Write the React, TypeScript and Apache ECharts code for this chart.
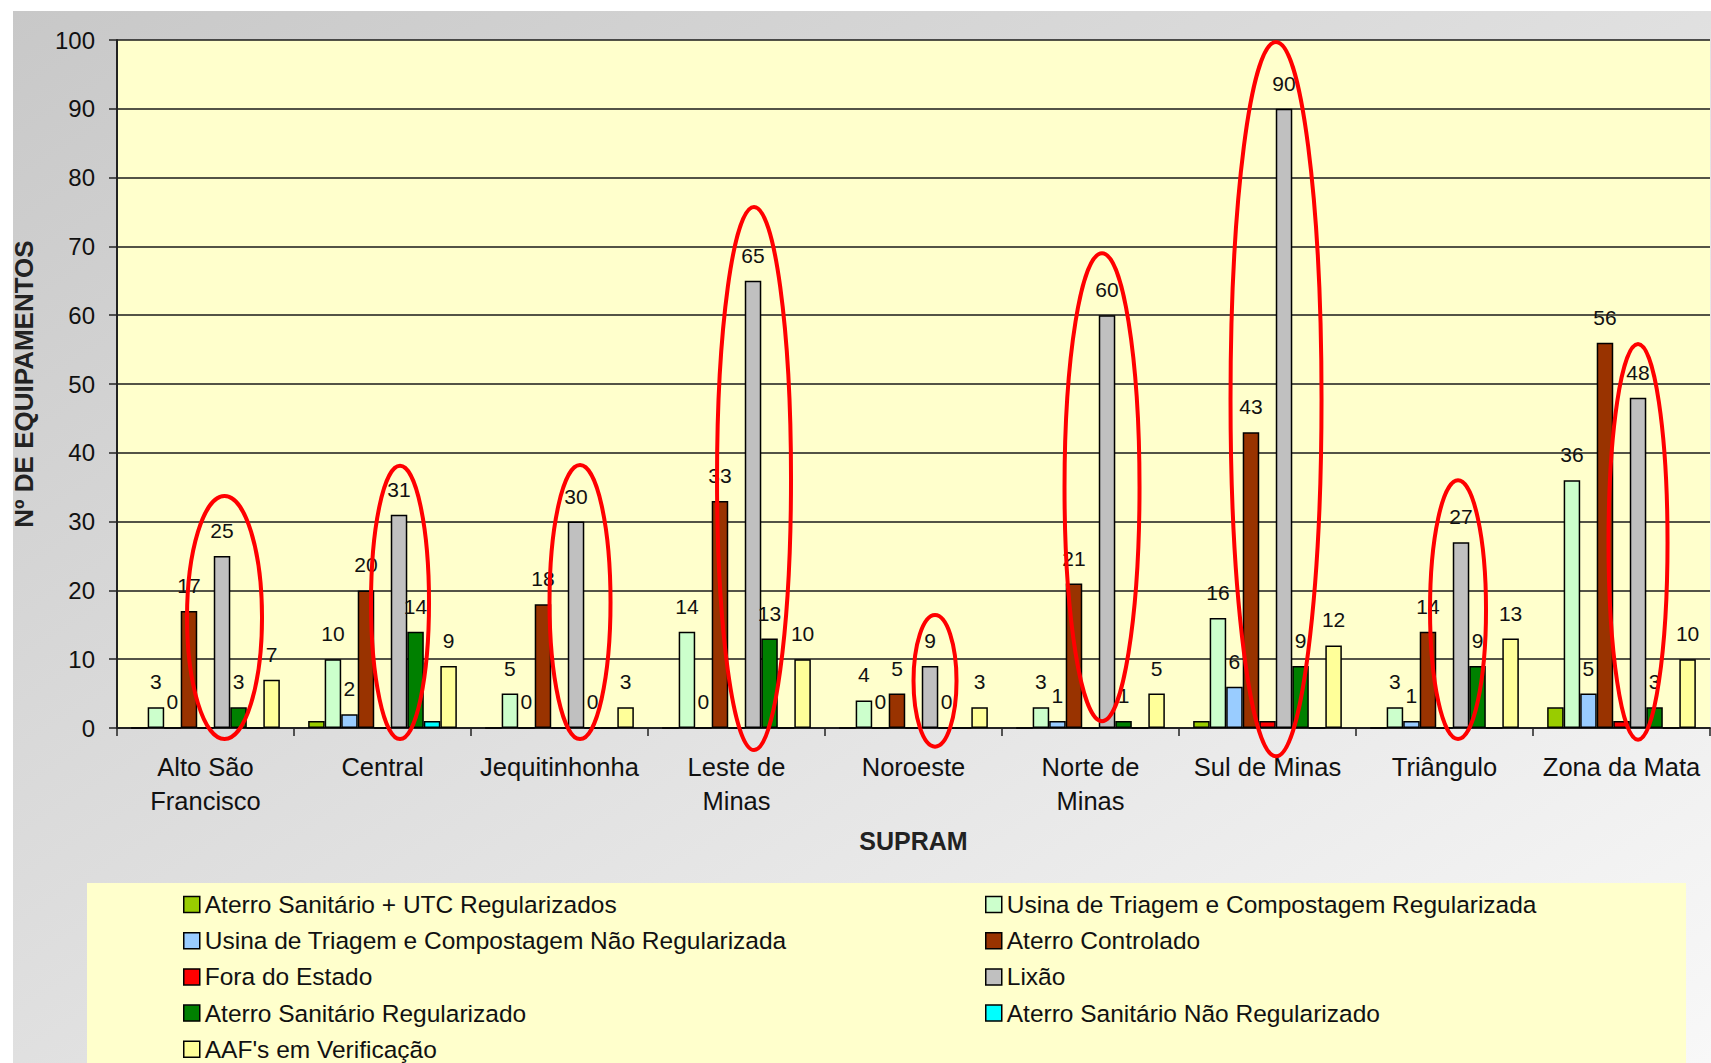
import React, { useEffect, useRef } from "react";
import * as echarts from "echarts";

const categories = [
  "Alto São\nFrancisco",
  "Central",
  "Jequitinhonha",
  "Leste de\nMinas",
  "Noroeste",
  "Norte de\nMinas",
  "Sul de Minas",
  "Triângulo",
  "Zona da Mata",
];

const seriesNames = [
  "Aterro Sanitário + UTC Regularizados",
  "Usina de Triagem e Compostagem Regularizada",
  "Usina de Triagem e Compostagem Não Regularizada",
  "Aterro Controlado",
  "Fora do Estado",
  "Lixão",
  "Aterro Sanitário Regularizado",
  "Aterro Sanitário Não Regularizado",
  "AAF's em Verificação",
];

const aterroUtc = [0, 1, 0, 0, 0, 0, 1, 0, 3];
const usinaReg = [3, 10, 5, 14, 4, 3, 16, 3, 36];
const usinaNaoReg = [0, 2, 0, 0, 0, 1, 6, 1, 5];
const aterroControlado = [17, 20, 18, 33, 5, 21, 43, 14, 56];
const foraEstado = [0, 0, 0, 0, 0, 0, 1, 0, 1];
const lixao = [25, 31, 30, 65, 9, 60, 90, 27, 48];
const aterroSanReg = [3, 14, 0, 13, 0, 1, 9, 9, 3];
const aterroSanNaoReg = [0, 1, 0, 0, 0, 0, 0, 0, 0];
const aafs = [7, 9, 3, 10, 3, 5, 12, 13, 10];

const yTicks = { min: 0, max: 100, interval: 10 };

// hand-drawn red ellipses (annotation), in value units
const ellipseTop = [34, 38.4, 38.5, 76, 16.7, 69.3, 100, 36.3, 56.1];
const ellipseBottom = [-1.9, -1.9, -1.9, -3.5, -3, 0.7, -4.4, -1.9, -2];
const ellipseRx = [37.5, 29, 30.5, 37, 21.5, 37.5, 45.5, 28, 29.5];
const ellipseDx = [2.5, 1, 4, 1, 5, -5, -8, -3, 0];

const seriesData = [
  aterroUtc,
  usinaReg,
  usinaNaoReg,
  aterroControlado,
  foraEstado,
  lixao,
  aterroSanReg,
  aterroSanNaoReg,
  aafs,
];
const colors = [
  "#99CC00",
  "#CCFFCC",
  "#99CCFF",
  "#993300",
  "#FF0000",
  "#C0C0C0",
  "#008000",
  "#00FFFF",
  "#FFFF99",
];
const labeled = [false, true, true, true, false, true, true, false, true];

const FONT = "'Liberation Sans', Arial, sans-serif";
const CAT_GAP = 0.16;

export default function App() {
  const ref = useRef<HTMLDivElement>(null);
  useEffect(() => {
    document.body.style.margin = "0";
    if (!ref.current) return;
    const chart = echarts.init(ref.current, null, { renderer: "svg" });

    const bars = seriesData.map((d, i) => ({
      name: seriesNames[i],
      type: "bar",
      data: d,
      barGap: "0%",
      barCategoryGap: CAT_GAP * 100 + "%",
      itemStyle: { color: colors[i], borderColor: "#000", borderWidth: 1.5 },
      label: {
        show: labeled[i],
        position: "top",
        distance: 15,
        fontSize: 21,
        fontFamily: FONT,
        color: "#111",
      },
      z: 2,
    }));

    const ellipseData = ellipseTop.map((t, i) => [i, t, ellipseBottom[i], ellipseRx[i], ellipseDx[i]]);

    const legendCommon = {
      orient: "vertical",
      top: 892,
      height: 400,
      padding: 0,
      itemWidth: 16,
      itemHeight: 16,
      itemGap: 11.2,
      icon: "rect",
      itemStyle: { borderColor: "#000", borderWidth: 1.5 },
      textStyle: { fontSize: 24.5, fontFamily: FONT, color: "#111", lineHeight: 22 },
    };

    const option: any = {
      animation: false,
      backgroundColor: "#ffffff",
      textStyle: { fontFamily: FONT },
      graphic: [
        {
          type: "rect",
          z: -10,
          silent: true,
          shape: { x: 13, y: 11, width: 1711 - 13, height: 1063 - 11 },
          style: {
            fill: new echarts.graphic.LinearGradient(0, 0, 1, 1, [
              { offset: 0, color: "#C8C8C8" },
              { offset: 1, color: "#F8F8F8" },
            ]),
          },
        },
        {
          type: "rect",
          z: -9,
          silent: true,
          shape: { x: 87, y: 883, width: 1686 - 87, height: 200 },
          style: { fill: "#FFFFCC" },
        },
      ],
      grid: {
        left: 117,
        right: 1,
        top: 40,
        bottom: 335,
        show: true,
        backgroundColor: "#FFFFCC",
        borderWidth: 0,
      },
      legend: [
        {
          ...legendCommon,
          left: 183,
          data: [seriesNames[0], seriesNames[2], seriesNames[4], seriesNames[6], seriesNames[8]],
        },
        {
          ...legendCommon,
          left: 985,
          data: [seriesNames[1], seriesNames[3], seriesNames[5], seriesNames[7]],
        },
      ],
      xAxis: {
        type: "category",
        data: categories,
        name: "SUPRAM",
        nameLocation: "middle",
        nameGap: 100,
        nameTextStyle: { fontSize: 25, fontWeight: "bold", fontFamily: FONT, color: "#222" },
        axisLine: { show: true, lineStyle: { color: "#222", width: 2 } },
        axisTick: { show: true, inside: false, length: 8, alignWithLabel: false, lineStyle: { color: "#222", width: 1.5 } },
        axisLabel: {
          interval: 0,
          margin: 22,
          fontSize: 25.5,
          lineHeight: 34,
          fontFamily: FONT,
          color: "#111",
        },
        splitLine: { show: false },
      },
      yAxis: {
        type: "value",
        min: yTicks.min,
        max: yTicks.max,
        interval: yTicks.interval,
        name: "Nº DE EQUIPAMENTOS",
        nameLocation: "middle",
        nameGap: 80,
        nameTextStyle: { fontSize: 26, fontWeight: "bold", fontFamily: FONT, color: "#222" },
        axisLine: { show: true, lineStyle: { color: "#222", width: 2 } },
        axisTick: { show: true, inside: false, length: 8, lineStyle: { color: "#222", width: 1.5 } },
        axisLabel: { margin: 22, fontSize: 24, fontFamily: FONT, color: "#111" },
        splitLine: { show: true, lineStyle: { color: "#1a1a1a", width: 1.5 } },
      },
      series: [
        ...bars,
        {
          type: "custom",
          name: "ellipses",
          data: ellipseData,
          clip: false,
          z: 10,
          silent: true,
          renderItem: (params: any, api: any) => {
            const i = api.value(0);
            const top = api.coord([i, api.value(1)]);
            const bottom = api.coord([i, api.value(2)]);
            const band = api.size([1, 0])[0];
            const bw = (band * (1 - CAT_GAP)) / 9;
            const cx = top[0] + bw + api.value(4);
            const rx = api.value(3);
            return {
              type: "ellipse",
              shape: {
                cx,
                cy: (top[1] + bottom[1]) / 2,
                rx,
                ry: (bottom[1] - top[1]) / 2 - 2,
              },
              style: { fill: "none", stroke: "#FF0000", lineWidth: 4 },
            };
          },
        },
      ],
    };
    chart.setOption(option);
    return () => chart.dispose();
  }, []);
  return <div ref={ref} style={{ width: 1711, height: 1063 }} />;
}
